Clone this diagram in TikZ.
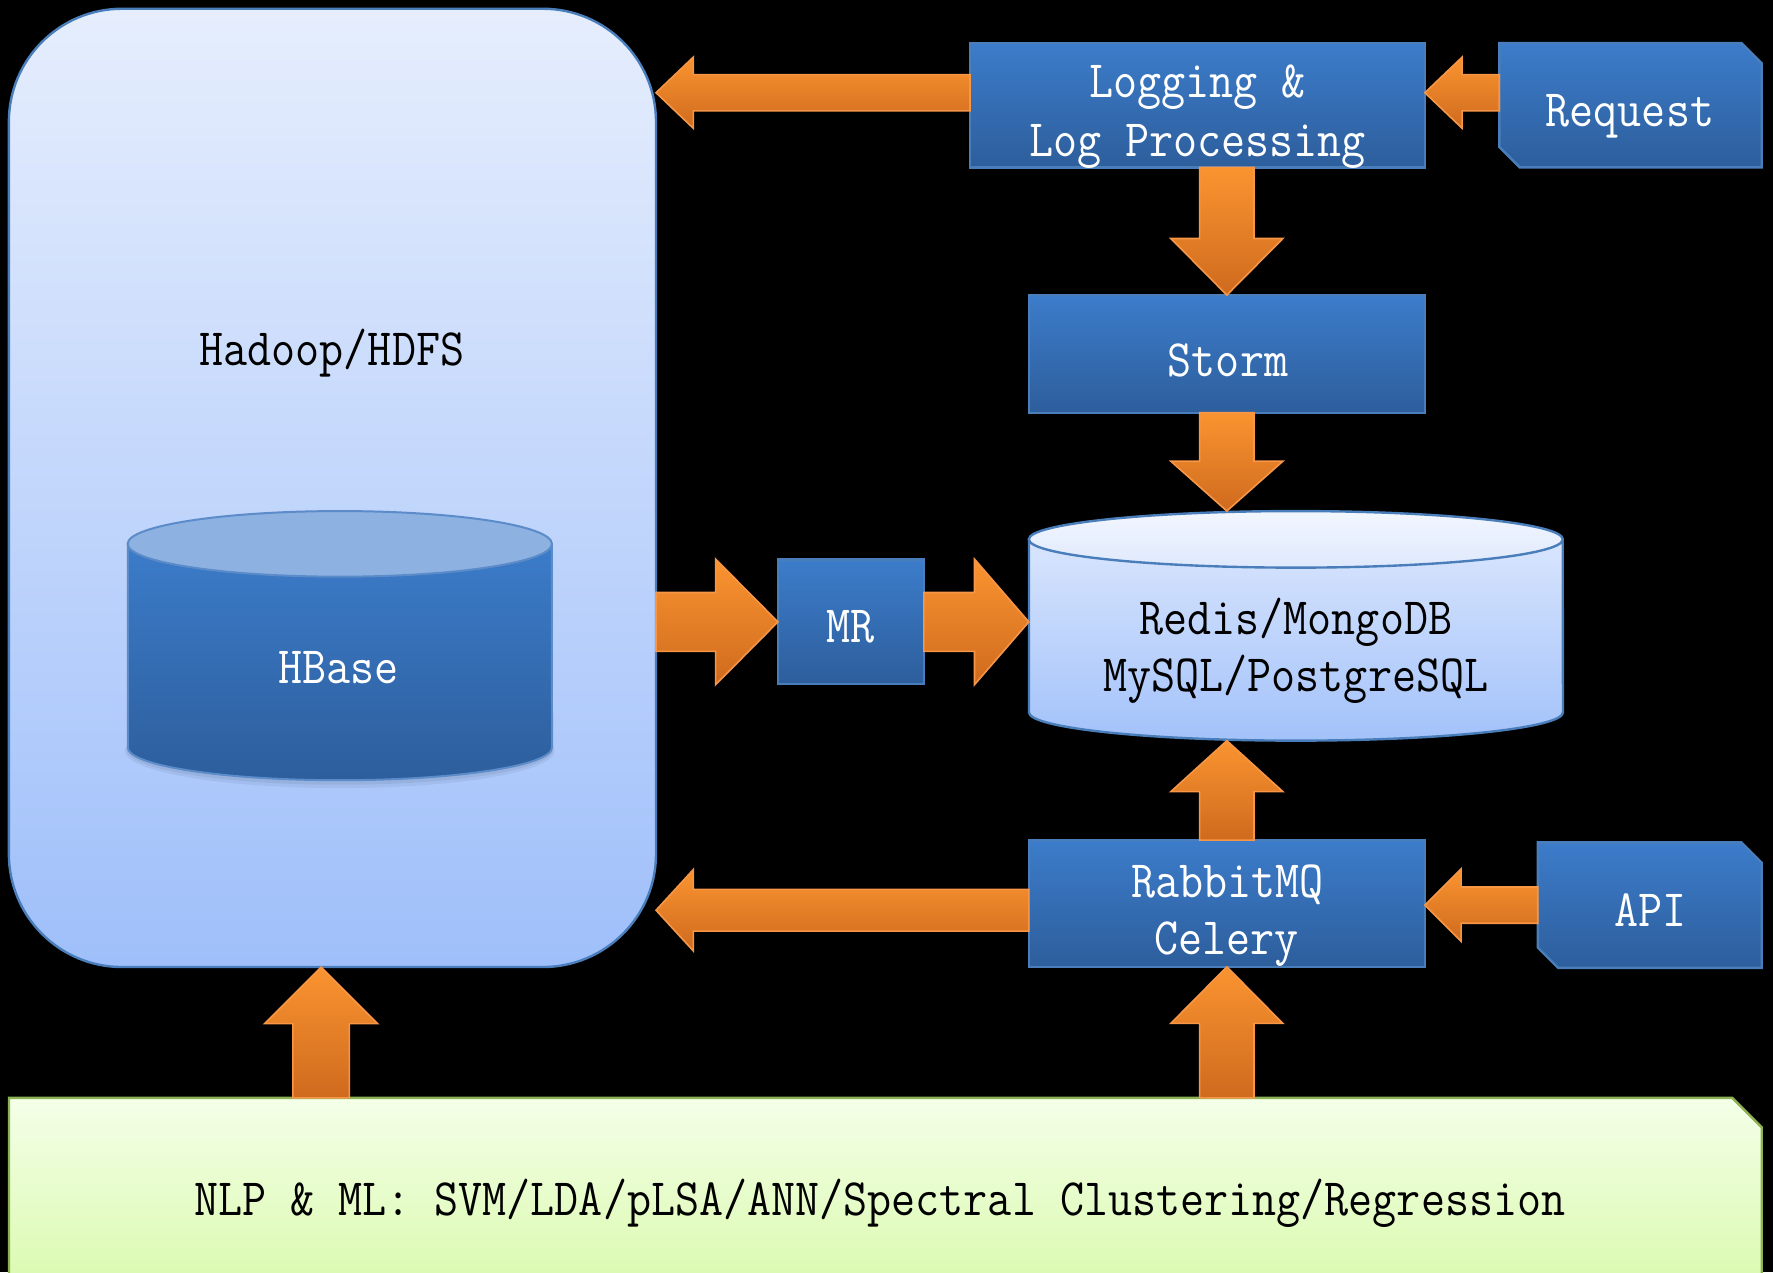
\documentclass[tikz,border=0pt]{standalone}
\usepackage{fontspec}
\setmonofont{Latin Modern Mono}[FakeStretch=0.89]
\usetikzlibrary{calc}
\definecolor{bluetop}{HTML}{3C7CCA}
\definecolor{bluebot}{HTML}{2D5E9C}
\definecolor{blueline}{HTML}{4A7EBB}
\definecolor{hadtop}{HTML}{E6EEFD}
\definecolor{hadbot}{HTML}{9FBFFA}
\definecolor{hbcap}{HTML}{8DB1E0}
\definecolor{hbline}{HTML}{5B8BC8}
\definecolor{dbcaptop}{HTML}{F2F6FE}
\definecolor{dbcapbot}{HTML}{DFE9FD}
\definecolor{dbtop}{HTML}{D8E5FD}
\definecolor{dbbot}{HTML}{A3C2FA}
\definecolor{nlptop}{HTML}{F4FFE8}
\definecolor{nlpbot}{HTML}{DAFAAE}
\definecolor{nlpline}{HTML}{8DB255}
\definecolor{ortop}{HTML}{FA9430}
\definecolor{orbot}{HTML}{CF6A1E}
\definecolor{orline}{HTML}{F79646}
\definecolor{shadowc}{HTML}{5A6E8C}
\newcommand\myfont{\ttfamily\fontsize{13.2pt}{14.5pt}\selectfont}
\newcommand\myarrow[5]{% tail, tip, body half, head half, head length
  \path ($(#2)!#5!(#1)$) coordinate (hb);
  \shadedraw[arrowstyle] (#2) -- ($(hb)!#4!90:(#1)$) -- ($(hb)!#3!90:(#1)$)
    -- ($(#1)!#3!-90:(hb)$) -- ($(#1)!#3!90:(hb)$) -- ($(hb)!#3!-90:(#1)$)
    -- ($(hb)!#4!-90:(#1)$) -- cycle;
}
\begin{document}
\begin{tikzpicture}[x=0.01cm,y=-0.01cm,
  bluebox/.style={draw=blueline, line width=0.6pt, top color=bluetop, bottom color=bluebot},
  wtxt/.style={text=white, font=\myfont, anchor=base, inner sep=0pt},
  btxt/.style={text=black, font=\myfont, anchor=base, inner sep=0pt},
  ghost/.style={inner sep=0pt, outer sep=0pt},
  arrowstyle/.style={draw=orline, line width=0.4pt, top color=ortop, bottom color=orbot}]
\fill[black] (0,0) rectangle (1568,1125);
\useasboundingbox (0,0) rectangle (1568,1125);

% Hadoop container
\node[draw=blueline, line width=0.6pt, top color=hadtop, bottom color=hadbot,
  rounded corners=1cm, minimum width=5.72cm, minimum height=8.47cm, ghost] (hadoop) at (294,431.5) {};
\node[btxt] (hadooplabel) at (293.5,323) {Hadoop/HDFS};

% HBase cylinder with soft shadow
\fill[shadowc, opacity=0.12] (300.5,664) ellipse[x radius=1.90cm, y radius=0.33cm];
\fill[shadowc, opacity=0.15] (300.5,663) ellipse[x radius=1.885cm, y radius=0.31cm];
\shadedraw[draw=hbline, line width=0.5pt, top color=bluetop, bottom color=bluebot]
  (113,481) -- (113,661) arc[start angle=180, end angle=360, x radius=1.875cm, y radius=0.29cm] -- (488,481) -- cycle;
\filldraw[fill=hbcap, draw=hbline, line width=0.5pt] (300.5,481) ellipse[x radius=1.875cm, y radius=0.29cm];
\node[ghost, minimum width=3.75cm, minimum height=2.38cm] (hbase) at (300.5,571) {};
\node[wtxt] (hbaselabel) at (299.5,604.5) {HBase};

% DB cylinder
\shadedraw[draw=blueline, line width=0.6pt, top color=dbtop, bottom color=dbbot]
  (910,477) -- (910,630) arc[start angle=180, end angle=360, x radius=2.36cm, y radius=0.25cm] -- (1382,477) -- cycle;
\shadedraw[draw=blueline, line width=0.6pt, top color=dbcaptop, bottom color=dbcapbot] (1146,477) ellipse[x radius=2.36cm, y radius=0.25cm];
\node[ghost, minimum width=4.72cm, minimum height=2.03cm] (db) at (1146,553.5) {};
\node[btxt] (dblabel1) at (1146,561) {Redis/MongoDB};
\node[btxt] (dblabel2) at (1146,611.5) {MySQL/PostgreSQL};

% blue boxes
\node[bluebox, ghost, minimum width=4.02cm, minimum height=1.10cm] (log) at (1059,93) {};
\node[wtxt] (loglabel1) at (1059,86.5) {Logging \&};
\node[wtxt] (loglabel2) at (1059,138) {Log Processing};
\node[bluebox, ghost, minimum width=3.50cm, minimum height=1.04cm] (storm) at (1085,313) {};
\node[wtxt] (stormlabel) at (1086,332.7) {Storm};
\node[bluebox, ghost, minimum width=1.29cm, minimum height=1.10cm] (mr) at (752.5,550) {};
\node[wtxt] (mrlabel) at (752,568.6) {MR};
\node[bluebox, ghost, minimum width=3.50cm, minimum height=1.12cm] (rabbit) at (1085,799) {};
\node[wtxt] (rabbitlabel1) at (1085.5,793.4) {RabbitMQ};
\node[wtxt] (rabbitlabel2) at (1084.5,844.5) {Celery};

% Request (cut corners)
\shadedraw[bluebox] (1326,38) -- (1540,38) -- (1558,56) -- (1558,148) -- (1344,148) -- (1326,130) -- cycle;
\node[ghost, minimum width=2.32cm, minimum height=1.10cm] (req) at (1442,93) {};
\node[wtxt] (reqlabel) at (1441.5,111.7) {Request};

% API (cut corners)
\shadedraw[bluebox] (1360,745) -- (1540,745) -- (1558,763) -- (1558,856) -- (1378,856) -- (1360,838) -- cycle;
\node[ghost, minimum width=1.98cm, minimum height=1.11cm] (api) at (1459,800.5) {};
\node[wtxt] (apilabel) at (1459.5,819.5) {API};

% NLP bar
\shadedraw[draw=nlpline, line width=0.6pt, top color=nlptop, bottom color=nlpbot]
  (8,971) -- (1532,971) -- (1558,997) -- (1558,1140) -- (8,1140) -- cycle;
\node[ghost, minimum width=15.50cm, minimum height=1.69cm] (nlp) at (783,1055.5) {};
\node[btxt] (nlplabel) at (778,1075.4) {NLP \& ML: SVM/LDA/pLSA/ANN/Spectral Clustering/Regression};

% block arrows
\coordinate (a1s) at ([yshift=0.11cm]log.west);
\coordinate (a1t) at (hadoop.east |- a1s);
\myarrow{a1s}{a1t}{0.16cm}{0.315cm}{0.33cm}
\coordinate (a2s) at ([yshift=0.11cm]req.west);
\coordinate (a2t) at (log.east |- a2s);
\myarrow{a2s}{a2t}{0.16cm}{0.315cm}{0.33cm}
\coordinate (a3s) at (storm.north |- log.south);
\coordinate (a3t) at (storm.north);
\myarrow{a3s}{a3t}{0.24cm}{0.495cm}{0.50cm}
\coordinate (a4s) at (storm.south);
\coordinate (a4t) at (storm.south |- db.north);
\myarrow{a4s}{a4t}{0.24cm}{0.495cm}{0.44cm}
\coordinate (a5s) at (hadoop.east |- mr.west);
\coordinate (a5t) at (mr.west);
\myarrow{a5s}{a5t}{0.26cm}{0.555cm}{0.55cm}
\coordinate (a6s) at (mr.east);
\coordinate (a6t) at (db.west |- mr.east);
\myarrow{a6s}{a6t}{0.26cm}{0.555cm}{0.48cm}
\coordinate (a7s) at (rabbit.north);
\coordinate (a7t) at (rabbit.north |- db.south);
\myarrow{a7s}{a7t}{0.24cm}{0.495cm}{0.45cm}
\coordinate (a8s) at (api.west);
\coordinate (a8t) at (rabbit.east |- api.west);
\myarrow{a8s}{a8t}{0.16cm}{0.32cm}{0.32cm}
\coordinate (a9s) at ([yshift=-0.06cm]rabbit.west);
\coordinate (a9t) at (hadoop.east |- a9s);
\myarrow{a9s}{a9t}{0.185cm}{0.36cm}{0.33cm}
\coordinate (a10t) at ([xshift=-0.1cm]hadoop.south);
\coordinate (a10s) at (a10t |- nlp.north);
\myarrow{a10s}{a10t}{0.25cm}{0.50cm}{0.50cm}
\coordinate (a11t) at (rabbit.south);
\coordinate (a11s) at (rabbit.south |- nlp.north);
\myarrow{a11s}{a11t}{0.24cm}{0.495cm}{0.50cm}
\end{tikzpicture}
\end{document}
